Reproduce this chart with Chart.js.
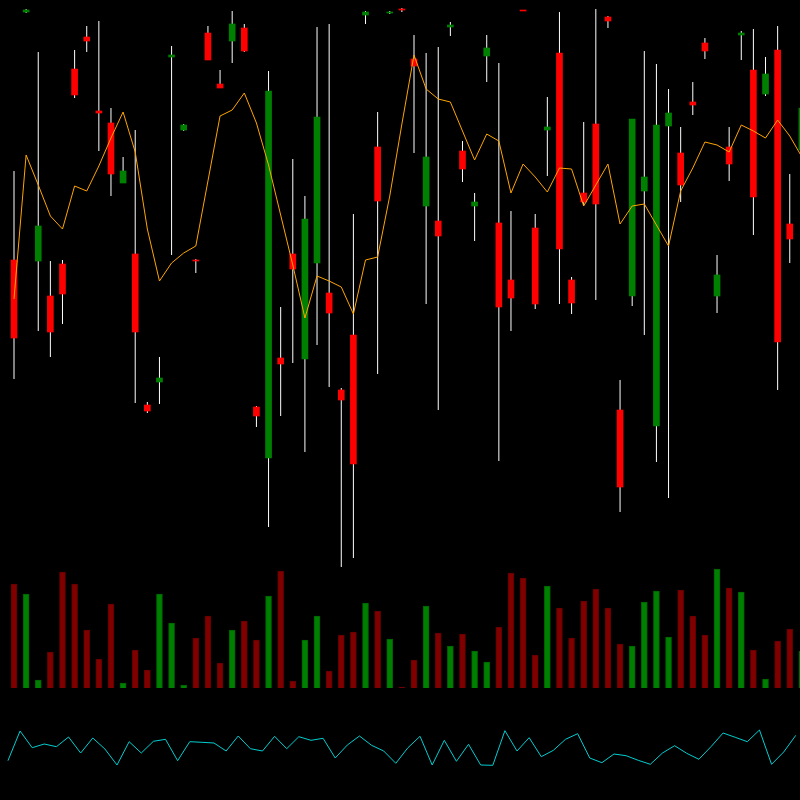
<!DOCTYPE html>
<html>
<head>
<meta charset="utf-8">
<script src="https://cdn.jsdelivr.net/npm/chart.js@4/dist/chart.umd.min.js"></script>
<style>
  html, body { margin: 0; padding: 0; background: #000; }
  canvas { display: block; }
</style>
</head>
<body>
<canvas id="stockChart" width="800" height="800"></canvas>
<script>
// Price candles
const opens  = [54.0, 78.8, 53.9, 50.4, 53.6, 73.1, 76.3, 68.9, 67.7, 61.7, 54.6, 39.5, 41.8, 74.3, 67.0, 54.0,
                76.7, 71.6, 75.9, 77.2, 39.3, 34.2, 44.2, 54.6, 44.1, 53.7, 50.7, 41.0, 46.5, 78.5, 65.3, 78.7,
                79.1, 74.1, 59.4, 57.9, 77.3, 64.9, 59.4, 74.4, 57.7, 52.0, 79.0, 57.2, 67.0, 74.7, 52.0, 60.7,
                67.6, 78.3, 39.0, 50.4, 60.9, 37.4, 67.4, 64.7, 69.8, 75.7, 50.4, 65.3, 76.5, 73.0, 70.6, 75.0,
                57.6, 65.0];
const highs  = [62.9, 79.1, 74.8, 53.9, 54.0, 75.0, 77.4, 77.9, 69.2, 64.3, 67.0, 39.8, 44.3, 75.4, 67.6, 54.1,
                77.4, 73.0, 78.9, 77.6, 39.4, 72.9, 49.3, 64.1, 60.4, 77.3, 77.6, 41.2, 58.6, 78.9, 68.8, 78.9,
                79.2, 76.5, 74.7, 75.3, 77.8, 65.9, 60.7, 76.5, 73.7, 58.9, 79.0, 58.6, 70.3, 78.8, 52.3, 67.8,
                79.1, 78.4, 42.0, 68.1, 74.9, 73.6, 71.1, 67.3, 71.8, 76.2, 54.5, 67.3, 76.9, 77.1, 74.3, 77.4,
                62.6, 69.5];
const lows   = [42.1, 78.7, 46.9, 44.3, 47.6, 70.2, 74.8, 64.9, 60.4, 61.7, 39.7, 38.7, 39.6, 54.5, 66.9, 52.7,
                74.0, 71.2, 73.7, 74.8, 37.3, 27.3, 38.4, 43.7, 34.8, 45.5, 41.3, 23.3, 24.2, 77.6, 42.6, 78.6,
                78.8, 64.7, 49.6, 39.0, 76.4, 61.8, 55.9, 71.8, 33.9, 46.9, 78.9, 49.1, 62.4, 49.6, 48.6, 59.5,
                50.0, 77.2, 28.8, 49.4, 46.5, 33.8, 30.2, 59.8, 68.5, 74.1, 48.7, 61.9, 74.0, 56.5, 70.4, 41.0,
                53.7, 64.5];
const closes = [46.2, 79.0, 57.4, 46.8, 50.6, 70.5, 75.9, 68.7, 62.6, 62.9, 46.8, 38.9, 42.2, 74.5, 67.5, 53.9,
                74.0, 71.2, 77.6, 74.9, 38.4, 70.9, 43.6, 53.1, 58.1, 68.3, 48.7, 40.0, 33.6, 78.8, 59.9, 78.8,
                79.0, 73.4, 64.3, 56.4, 77.5, 63.1, 59.8, 75.2, 49.3, 50.2, 78.9, 49.6, 67.3, 55.1, 49.7, 59.8,
                59.6, 77.9, 31.3, 68.1, 62.3, 67.5, 68.7, 61.5, 69.5, 74.9, 52.5, 63.6, 76.7, 60.3, 72.6, 45.8,
                56.1, 69.2];

// Moving average (orange line)
const movingAvg = [50.1, 64.5, 61.5, 58.4, 57.1, 61.4, 60.9, 63.4, 66.2, 68.8, 64.8, 57.1, 51.9, 53.7, 54.7, 55.4,
                   61.9, 68.4, 69.0, 70.7, 67.7, 63.5, 58.5, 53.5, 48.2, 52.4, 51.9, 51.3, 48.6, 54.0, 54.3, 60.4,
                   67.6, 74.5, 71.1, 70.1, 69.8, 66.9, 64.0, 66.6, 65.9, 60.7, 63.6, 62.3, 60.8, 63.2, 63.1, 59.4,
                   61.5, 63.6, 57.6, 59.4, 59.6, 57.5, 55.4, 60.9, 63.2, 65.8, 65.5, 64.8, 67.5, 66.9, 66.2, 68.0,
                   66.4, 64.3];

// Volume bars
const volumes = [104, 94, 8, 36, 116, 104, 58, 29, 84, 5, 38, 18, 94, 65, 3, 50,
                 72, 25, 58, 67, 48, 92, 117, 7, 48, 72, 17, 53, 56, 85, 77, 49,
                 1, 28, 82, 55, 42, 54, 37, 26, 61, 115, 110, 33, 102, 80, 50, 87,
                 99, 80, 44, 42, 86, 97, 51, 98, 72, 53, 119, 100, 96, 38, 9, 47,
                 59, 37];

// Oscillator (cyan line)
const oscillator = [39.3, 69.0, 52.3, 56.0, 53.3, 63.0, 47.0, 62.0, 51.0, 35.0, 58.3, 47.0, 58.7, 60.7, 39.3, 58.3,
                    57.7, 57.0, 49.0, 64.0, 51.3, 49.0, 63.7, 51.3, 63.3, 59.7, 61.7, 42.0, 55.0, 64.0, 54.7, 49.0,
                    36.7, 52.3, 63.7, 35.0, 59.7, 38.7, 55.7, 35.0, 34.7, 69.3, 49.0, 62.3, 43.3, 49.7, 60.7, 66.3,
                    42.0, 37.3, 46.0, 44.3, 39.7, 35.7, 47.0, 54.3, 46.7, 40.7, 53.3, 67.0, 62.7, 58.3, 70.0, 35.7,
                    48.0, 64.7];

const UP = '#008000';
const DOWN = '#ff0000';
const VOL_UP = '#008000';
const VOL_DOWN = '#800000';

const isUp = closes.map((c, i) => c >= opens[i]);

function initializeChart() {
    const ctx = document.getElementById('stockChart');
    window.chart = new Chart(ctx, {
        type: 'bar',
        data: {
            datasets: [
                {
                    // moving average on top of everything
                    type: 'line',
                    label: 'MA',
                    data: movingAvg.map((v, i) => ({ x: i, y: v })),
                    yAxisID: 'y',
                    borderColor: '#ffa500',
                    borderWidth: 1,
                    pointRadius: 0,
                    tension: 0,
                    order: 0
                },
                {
                    label: 'Body',
                    data: opens.map((o, i) => ({ x: i, y: [o, closes[i]] })),
                    yAxisID: 'y',
                    backgroundColor: isUp.map(u => u ? UP : DOWN),
                    barThickness: 6,
                    grouped: false,
                    order: 1
                },
                {
                    label: 'Wick',
                    data: lows.map((l, i) => ({ x: i, y: [l, highs[i]] })),
                    yAxisID: 'y',
                    backgroundColor: '#ffffff',
                    barThickness: 1,
                    inflateAmount: 0, // let thin wicks antialias like the original
                    grouped: false,
                    order: 2
                },
                {
                    label: 'Volume',
                    data: volumes.map((v, i) => ({ x: i, y: v })),
                    yAxisID: 'yv',
                    backgroundColor: isUp.map(u => u ? VOL_UP : VOL_DOWN),
                    borderColor: isUp.map(u => u ? '#006000' : '#600000'),
                    borderWidth: 1,
                    barThickness: 6,
                    grouped: false,
                    order: 3
                },
                {
                    type: 'line',
                    label: 'Oscillator',
                    // oscillator sits half a bar to the left
                    data: oscillator.map((v, i) => ({ x: i - 0.5, y: v })),
                    yAxisID: 'yo',
                    borderColor: '#00ced1',
                    borderWidth: 1,
                    pointRadius: 0,
                    tension: 0,
                    order: 4
                }
            ]
        },
        options: {
            responsive: false,
            animation: false,
            layout: { padding: 0 },
            scales: {
                x: { type: 'linear', min: -1.155, max: 64.845, offset: false, display: false },
                y: { min: 0, max: 80, display: false },    // price panel
                yv: { min: -112, max: 688, display: false }, // volume panel
                yo: { min: 0, max: 800, display: false }     // oscillator panel
            },
            plugins: {
                legend: { display: false },
                tooltip: { enabled: false }
            }
        },
        plugins: [{
            id: 'blackBackground',
            beforeDraw: (chart) => {
                const c = chart.ctx;
                c.save();
                c.fillStyle = '#000';
                c.fillRect(0, 0, chart.width, chart.height);
                c.restore();
            }
        }]
    });
}

initializeChart();
</script>
</body>
</html>
